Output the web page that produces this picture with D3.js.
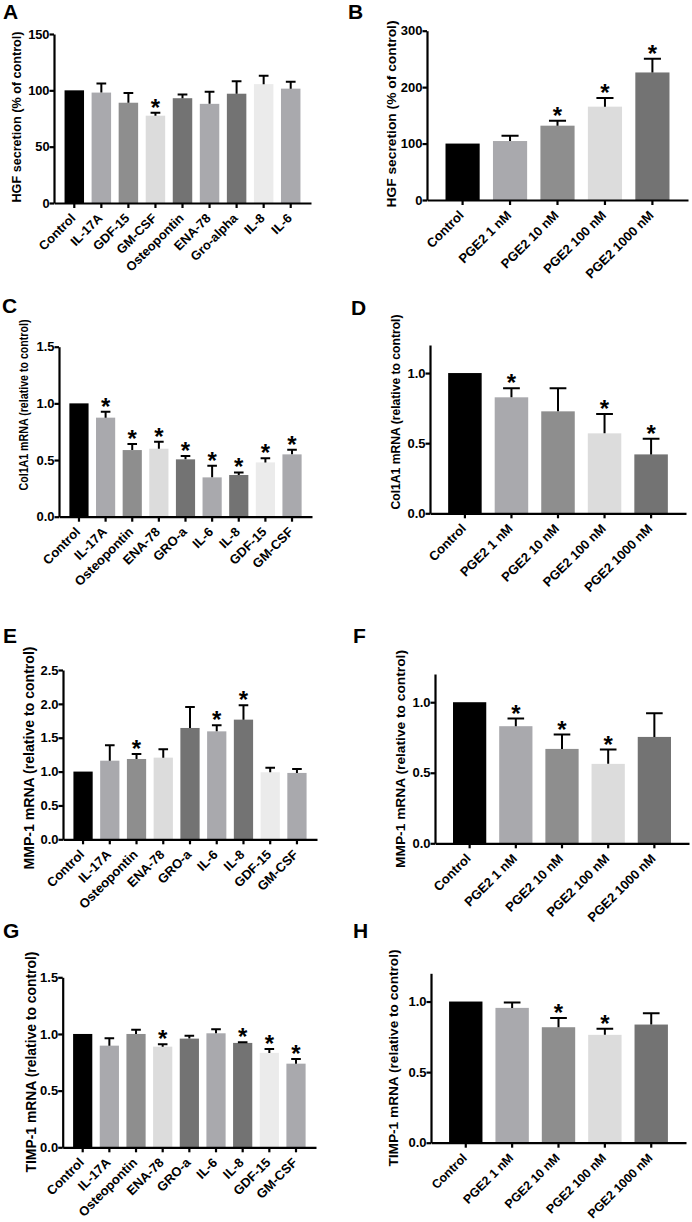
<!DOCTYPE html>
<html>
<head>
<meta charset="utf-8">
<script src="https://cdn.jsdelivr.net/npm/d3@7"></script>
<style>
  body { margin: 0; background: #fff; }
  svg { display: block; }
  text { font-family: "Liberation Sans", Arial, sans-serif; font-weight: bold; fill: #000; }
</style>
</head>
<body>
<script>
// categories
const cytokinesHGF = ["Control", "IL-17A", "GDF-15", "GM-CSF", "Osteopontin", "ENA-78", "Gro-alpha", "IL-8", "IL-6"];
const cytokinesMRNA = ["Control", "IL-17A", "Osteopontin", "ENA-78", "GRO-a", "IL-6", "IL-8", "GDF-15", "GM-CSF"];
const pge2Doses = ["Control", "PGE2 1 nM", "PGE2 10 nM", "PGE2 100 nM", "PGE2 1000 nM"];

// A: HGF secretion, cytokines
const hgfCytokineMean = [100, 98, 89, 77.5, 93, 88, 97, 105.5, 101.5];
const hgfCytokineErr = [0, 8, 8.6, 2.5, 3.4, 10.8, 11, 7.5, 6.2];
const hgfCytokineSig = [0, 0, 0, 1, 0, 0, 0, 0, 0];

// B: HGF secretion, PGE2
const hgfPgeMean = [100, 104.5, 131.7, 165.4, 226];
const hgfPgeErr = [0, 9.5, 8.9, 15.3, 24.4];
const hgfPgeSig = [0, 0, 1, 1, 1];

// C: Col1A1 mRNA, cytokines
const colCytokineMean = [1.0, 0.874, 0.588, 0.6, 0.506, 0.347, 0.368, 0.479, 0.55];
const colCytokineErr = [0, 0.052, 0.053, 0.062, 0.029, 0.103, 0.023, 0.036, 0.041];
const colCytokineSig = [0, 1, 1, 1, 1, 1, 1, 1, 1];

// D: Col1A1 mRNA, PGE2
const colPgeMean = [1.0, 0.827, 0.727, 0.57, 0.42];
const colPgeErr = [0, 0.064, 0.164, 0.138, 0.112];
const colPgeSig = [0, 1, 0, 1, 1];

// E: MMP-1 mRNA, cytokines
const mmpCytokineMean = [1.0, 1.161, 1.186, 1.206, 1.644, 1.594, 1.767, 0.99, 0.98];
const mmpCytokineErr = [0, 0.227, 0.074, 0.123, 0.31, 0.089, 0.211, 0.068, 0.058];
const mmpCytokineSig = [0, 0, 1, 0, 0, 1, 1, 0, 0];

// F: MMP-1 mRNA, PGE2
const mmpPgeMean = [1.0, 0.83, 0.669, 0.563, 0.754];
const mmpPgeErr = [0, 0.054, 0.102, 0.101, 0.168];
const mmpPgeSig = [0, 1, 1, 1, 0];

// G: TIMP-1 mRNA, cytokines
const timpCytokineMean = [1.0, 0.897, 1.0, 0.888, 0.959, 1.006, 0.921, 0.833, 0.738];
const timpCytokineErr = [0, 0.065, 0.038, 0.021, 0.026, 0.035, 0.005, 0.035, 0.041];
const timpCytokineSig = [0, 0, 0, 1, 0, 0, 1, 1, 1];

// H: TIMP-1 mRNA, PGE2
const timpPgeMean = [1.0, 0.955, 0.818, 0.764, 0.837];
const timpPgeErr = [0, 0.038, 0.066, 0.043, 0.08];
const timpPgeSig = [0, 0, 1, 1, 0];

// tick labels
const ticksHGF150 = [0, 50, 100, 150];
const ticksHGF300 = [0, 100, 200, 300];
const ticks15 = [0, 0.5, 1.0, 1.5];
const ticks12 = [0, 0.5, 1.0];
const ticks25 = [0, 0.5, 1.0, 1.5, 2.0, 2.5];

const width = 692;
const height = 1222;

const black = "#000000";
const grayA = "#a9a9ad";
const grayB = "#8e8e8e";
const grayC = "#dcdcdc";
const grayD = "#737373";
const grayE = "#ebebeb";

const cytokineColorsHGF = [black, grayA, grayB, grayC, grayD, grayA, grayD, grayE, grayA];
const cytokineColors = [black, grayA, grayB, grayC, grayD, grayA, grayD, grayE, grayA];
const pgeColors = [black, grayA, grayB, grayC, grayD];

const intFmt = d3.format("d");
const decFmt = d3.format(".1f");

const panels = [
  {
    letter: "A", letterX: 3, letterY: 19,
    cats: cytokinesHGF, mean: hgfCytokineMean, err: hgfCytokineErr, sig: hgfCytokineSig,
    colors: cytokineColorsHGF, max: 150, ticks: ticksHGF150, fmt: intFmt,
    title: "HGF secretion (% of control)", titleX: 21, titleY: 117, titleLen: 171, titleSize: 12.5,
    x0: 54, x1: 311, yTop: 34, yBottom: 203, font: 12.8, catFont: 12.8,
  },
  {
    letter: "B", letterX: 348, letterY: 19,
    cats: pge2Doses, mean: hgfPgeMean, err: hgfPgeErr, sig: hgfPgeSig,
    colors: pgeColors, max: 300, ticks: ticksHGF300, fmt: intFmt,
    title: "HGF secretion (% of control)", titleX: 396, titleY: 114, titleLen: 187, titleSize: 13.5,
    x0: 427, x1: 688, yTop: 30.7, yBottom: 200, font: 13, catFont: 13,
  },
  {
    letter: "C", letterX: 2, letterY: 313,
    cats: cytokinesMRNA, mean: colCytokineMean, err: colCytokineErr, sig: colCytokineSig,
    colors: cytokineColors, max: 1.5, ticks: ticks15, fmt: decFmt,
    title: "Col1A1 mRNA (relative to control)", titleX: 28, titleY: 405, titleLen: 171, titleSize: 12,
    x0: 59, x1: 312, yTop: 346.7, yBottom: 516.7, font: 13, catFont: 13,
  },
  {
    letter: "D", letterX: 351, letterY: 315,
    cats: pge2Doses, mean: colPgeMean, err: colPgeErr, sig: colPgeSig,
    colors: pgeColors, max: 1.2, ticks: ticks12, fmt: decFmt,
    title: "Col1A1 mRNA (relative to control)", titleX: 400, titleY: 412, titleLen: 195, titleSize: 12.5,
    x0: 430, x1: 686, yTop: 345, yBottom: 513.3, font: 13, catFont: 13,
  },
  {
    letter: "E", letterX: 3, letterY: 643,
    cats: cytokinesMRNA, mean: mmpCytokineMean, err: mmpCytokineErr, sig: mmpCytokineSig,
    colors: cytokineColors, max: 2.5, ticks: ticks25, fmt: decFmt,
    title: "MMP-1 mRNA (relative to control)", titleX: 34, titleY: 758, titleLen: 223, titleSize: 14,
    x0: 63, x1: 317, yTop: 670, yBottom: 839.3, font: 13, catFont: 13,
  },
  {
    letter: "F", letterX: 353, letterY: 643,
    cats: pge2Doses, mean: mmpPgeMean, err: mmpPgeErr, sig: mmpPgeSig,
    colors: pgeColors, max: 1.2, ticks: ticks12, fmt: decFmt,
    title: "MMP-1 mRNA (relative to control)", titleX: 405, titleY: 759, titleLen: 218, titleSize: 13.7,
    x0: 435, x1: 689, yTop: 674, yBottom: 843.3, font: 13, catFont: 13,
  },
  {
    letter: "G", letterX: 3, letterY: 938,
    cats: cytokinesMRNA, mean: timpCytokineMean, err: timpCytokineErr, sig: timpCytokineSig,
    colors: cytokineColors, max: 1.5, ticks: ticks15, fmt: decFmt,
    title: "TIMP-1 mRNA (relative to control)", titleX: 36, titleY: 1062, titleLen: 221, titleSize: 13.9,
    x0: 62.7, x1: 316, yTop: 977.3, yBottom: 1147.3, font: 13, catFont: 13,
  },
  {
    letter: "H", letterX: 353, letterY: 938,
    cats: pge2Doses, mean: timpPgeMean, err: timpPgeErr, sig: timpPgeSig,
    colors: pgeColors, max: 1.2, ticks: ticks12, fmt: decFmt,
    title: "TIMP-1 mRNA (relative to control)", titleX: 398, titleY: 1058, titleLen: 217, titleSize: 13.6,
    x0: 431, x1: 686, yTop: 973.3, yBottom: 1142.7, font: 13, catFont: 12.4,
  },
];

const svg = d3.select("body")
    .append("svg")
    .attr("width", width)
    .attr("height", height)
    .attr("viewBox", [0, 0, width, height].join(" "));

const drawPanel = (p) => {
  const g = svg.append("g").attr("class", "panel");

  const x = d3.scaleBand()
      .domain(p.cats)
      .range([p.x0, p.x1])
      .paddingInner(0.28)
      .paddingOuter(0.39);

  const y = d3.scaleLinear()
      .domain([0, p.max])
      .range([p.yBottom, p.yTop]);

  const rows = p.cats.map((name, i) => ({
    name: name,
    mean: p.mean[i],
    err: p.err[i],
    sig: p.sig[i],
    color: p.colors[i],
  }));

  const cx = (d) => x(d.name) + x.bandwidth() / 2;
  const capHalf = x.bandwidth() / 4;

  g.selectAll(".bar")
      .data(rows)
      .enter()
      .append("rect")
      .attr("class", "bar")
      .attr("x", (d) => x(d.name))
      .attr("width", x.bandwidth())
      .attr("y", (d) => y(d.mean))
      .attr("height", (d) => y(0) - y(d.mean))
      .attr("fill", (d) => d.color);

  g.selectAll(".err")
      .data(rows.filter((d) => d.err > 0))
      .enter()
      .append("path")
      .attr("class", "err")
      .attr("d", (d) => {
        const top = y(d.mean + d.err);
        return `M${cx(d)},${y(d.mean)}V${top}M${cx(d) - capHalf},${top}H${cx(d) + capHalf}`;
      })
      .attr("fill", "none")
      .attr("stroke", "#000")
      .attr("stroke-width", 2);

  g.selectAll(".star")
      .data(rows.filter((d) => d.sig))
      .enter()
      .append("text")
      .attr("class", "star")
      .attr("x", cx)
      .attr("y", (d) => y(d.mean + d.err) + 3)
      .attr("text-anchor", "middle")
      .attr("font-size", 24)
      .text("*");

  const yAxis = g.append("g")
      .attr("transform", `translate(${p.x0},0)`)
      .call(d3.axisLeft(y)
          .tickValues(p.ticks)
          .tickFormat(p.fmt)
          .tickSize(4.5)
          .tickSizeOuter(0)
          .tickPadding(0));

  const xAxis = g.append("g")
      .attr("transform", `translate(0,${p.yBottom})`)
      .call(d3.axisBottom(x)
          .tickSize(5)
          .tickSizeOuter(0));

  [yAxis, xAxis].forEach((axis) => {
    axis.attr("font-family", null).attr("font-size", null);
    axis.selectAll("path, line")
        .attr("stroke", "#000")
        .attr("stroke-width", 2.2);
    axis.selectAll("text")
        .attr("fill", "#000")
        .style("font-size", `${p.font}px`);
  });

  xAxis.selectAll("text")
      .style("font-size", `${p.catFont}px`)
      .attr("x", 0)
      .attr("y", 0)
      .attr("dy", 0)
      .attr("text-anchor", "end")
      .attr("transform", "translate(2,16) rotate(-45)");

  g.append("text")
      .attr("transform", `translate(${p.titleX},${p.titleY}) rotate(-90)`)
      .attr("text-anchor", "middle")
      .attr("font-size", p.titleSize)
      .attr("textLength", p.titleLen)
      .attr("lengthAdjust", "spacingAndGlyphs")
      .text(p.title);

  g.append("text")
      .attr("x", p.letterX)
      .attr("y", p.letterY)
      .attr("font-size", 21)
      .text(p.letter);
};

panels.forEach(drawPanel);
</script>
</body>
</html>
